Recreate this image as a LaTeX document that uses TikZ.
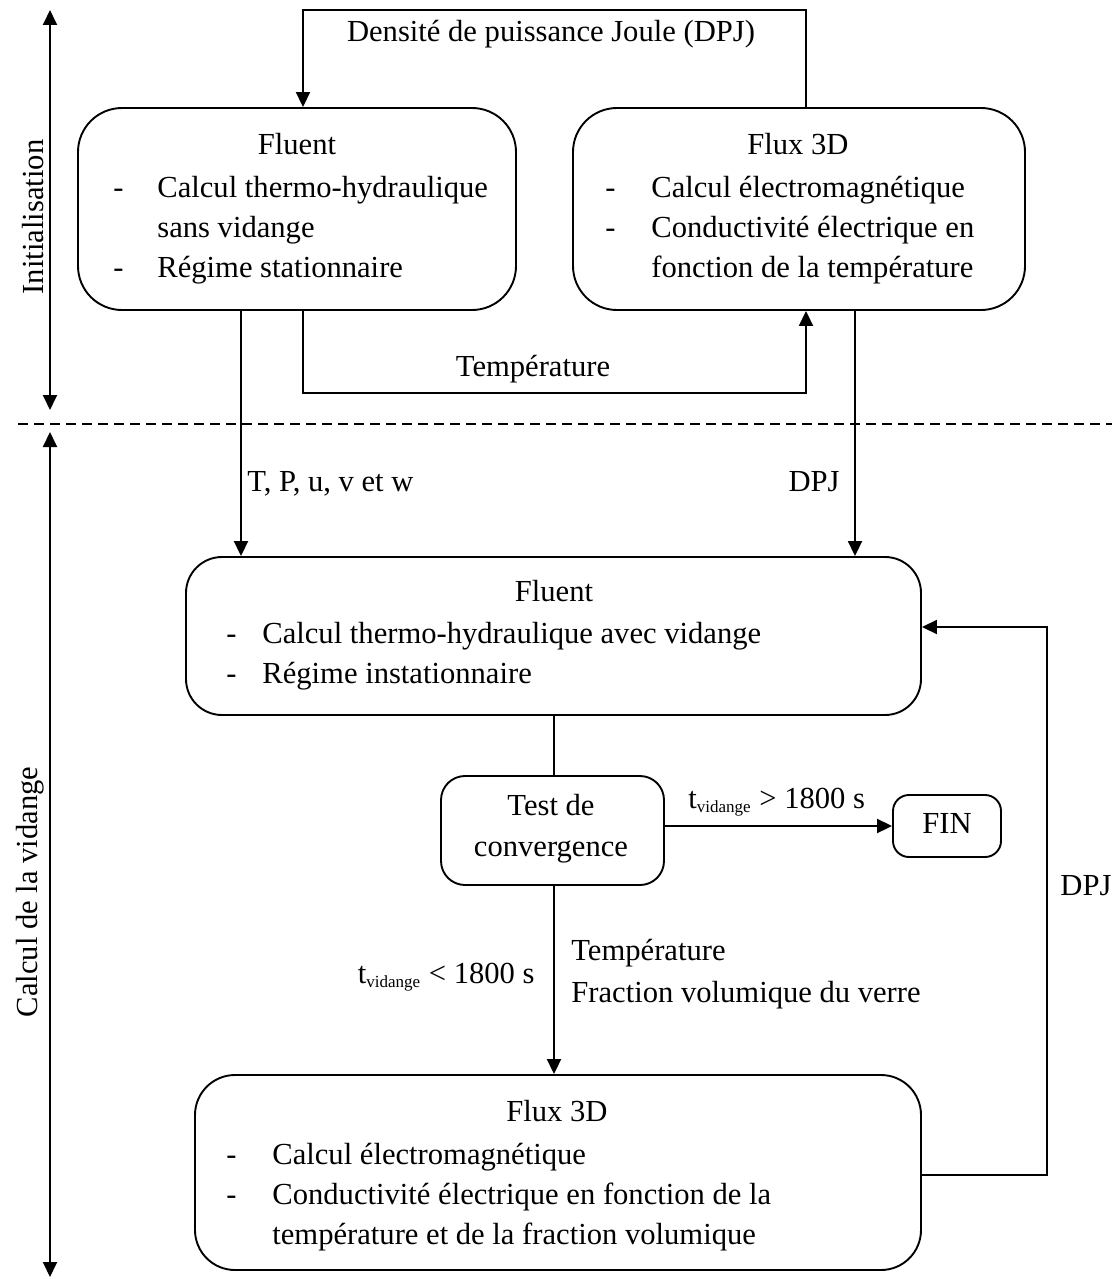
\documentclass[tikz,border=0pt]{standalone}
\usepackage{fontspec}
\setmainfont{Liberation Serif}
\usetikzlibrary{arrows.meta}
\newcommand{\tvid}{t\textsubscript{\fontsize{8.5}{9}\selectfont vidange}}
\begin{document}
\begin{tikzpicture}[x=0.5pt,y=-0.5pt,
  every node/.style={font=\fontsize{15.3}{20}\selectfont, inner sep=0pt},
  box/.style={draw, line width=0.95pt, rectangle},
  txt/.style={anchor=base west},
  ctxt/.style={anchor=base},
  ln/.style={line width=0.95pt},
  arr/.style={line width=0.95pt, -{Triangle[length=7.5pt,width=7pt]}},
  darr/.style={line width=0.95pt, {Triangle[length=7.5pt,width=7pt]}-{Triangle[length=7.5pt,width=7pt]}}]
\useasboundingbox (0,0) rectangle (1118,1279);

% boxes
\node[box, rounded corners=22pt, minimum width=219pt, minimum height=101pt] (Fluent1) at (297,209) {};
\node[box, rounded corners=22pt, minimum width=226pt, minimum height=101pt] (Flux1) at (799,209) {};
\node[box, rounded corners=18pt, minimum width=367.5pt, minimum height=79pt] (Fluent2) at (553.5,636) {};
\node[box, rounded corners=12pt, minimum width=111.5pt, minimum height=54.5pt] (Test) at (552.5,830.5) {};
\node[box, rounded corners=8pt, minimum width=54pt, minimum height=31pt] (FIN) at (947,826) {};
\node[box, rounded corners=20pt, minimum width=363pt, minimum height=97.5pt] (Flux2) at (558,1172.5) {};

% box texts
\node[ctxt] (f1t) at (297,155) {Fluent};
\node[txt] (f1d1) at (113,197) {-};
\node[txt] (f1l1) at (157,197) {Calcul thermo-hydraulique};
\node[txt] (f1l2) at (157,237) {sans vidange};
\node[txt] (f1d2) at (113,277) {-};
\node[txt] (f1l3) at (157,277) {Régime stationnaire};

\node[ctxt] (x1t) at (798,155) {Flux 3D};
\node[txt] (x1d1) at (605,197) {-};
\node[txt] (x1l1) at (651,197) {Calcul électromagnétique};
\node[txt] (x1d2) at (605,237) {-};
\node[txt] (x1l2) at (651,237) {Conductivité électrique en};
\node[txt] (x1l3) at (651,277) {fonction de la température};

\node[ctxt] (f2t) at (554,601) {Fluent};
\node[txt] (f2d1) at (226,643) {-};
\node[txt] (f2l1) at (262,643) {Calcul thermo-hydraulique avec vidange};
\node[txt] (f2d2) at (226,683) {-};
\node[txt] (f2l2) at (262,683) {Régime instationnaire};

\node[ctxt] (tt1) at (551,815) {Test de};
\node[ctxt] (tt2) at (551,856) {convergence};
\node[ctxt] (fint) at (947,833) {FIN};

\node[ctxt] (x2t) at (557,1121) {Flux 3D};
\node[txt] (x2d1) at (226,1164) {-};
\node[txt] (x2l1) at (272,1164) {Calcul électromagnétique};
\node[txt] (x2d2) at (226,1204) {-};
\node[txt] (x2l2) at (272,1204) {Conductivité électrique en fonction de la};
\node[txt] (x2l3) at (272,1244) {température et de la fraction volumique};

% labels
\node[ctxt] (lDPJtop) at (551,42) {Densité de puissance Joule (DPJ)};
\node[ctxt] (lTemp1) at (533,376) {Température};
\node[txt] (lTPuvw) at (247,491) {T, P, u, v et w};
\node[anchor=base east] (lDPJmid) at (840,491) {DPJ};
\node[txt] (lgt) at (688,808) {\tvid{} > 1800 s};
\node[anchor=base east] (llt) at (535,983) {\tvid{} < 1800 s};
\node[txt] (lTemp2) at (571,960) {Température};
\node[txt] (lFrac) at (571,1002) {Fraction volumique du verre};
\node[txt] (lDPJr) at (1060,895) {DPJ};

\node[rotate=90] (lInit) at (33,217) {Initialisation};
\node[rotate=90] (lVid) at (30,892) {Calcul de la vidange};

% coordinates
\coordinate (dpjR) at (806,10);
\coordinate (dpjL) at (303,10);
\coordinate (tL) at (303,393);
\coordinate (tR) at (806,393);
\coordinate (c1) at (241,0);
\coordinate (c2) at (855,0);
\coordinate (c3) at (554,0);
\coordinate (fbB) at (1047,1175);
\coordinate (fbT) at (1047,627);
\coordinate (i1) at (50,10);
\coordinate (i2) at (50,410);
\coordinate (v1) at (50,432);
\coordinate (v2) at (50,1277);
\coordinate (d1) at (18,424);
\coordinate (d2) at (1112,424);

% connectors
\draw[arr] (dpjR |- Flux1.north) -- (dpjR) -- (dpjL) -- (dpjL |- Fluent1.north);
\draw[arr] (tL |- Fluent1.south) -- (tL) -- (tR) -- (tR |- Flux1.south);
\draw[arr] (c1 |- Fluent1.south) -- (c1 |- Fluent2.north);
\draw[arr] (c2 |- Flux1.south) -- (c2 |- Fluent2.north);
\draw[ln] (c3 |- Fluent2.south) -- (c3 |- Test.north);
\draw[arr] (FIN.west -| Test.east) -- (FIN.west);
\draw[arr] (c3 |- Test.south) -- (c3 |- Flux2.north);
\draw[arr] (fbB -| Flux2.east) -- (fbB) -- (fbT) -- (fbT -| Fluent2.east);
\draw[darr] (i1) -- (i2);
\draw[darr] (v1) -- (v2);
\draw[line width=0.95pt, dash pattern=on 5pt off 3pt] (d1) -- (d2);
\end{tikzpicture}
\end{document}
